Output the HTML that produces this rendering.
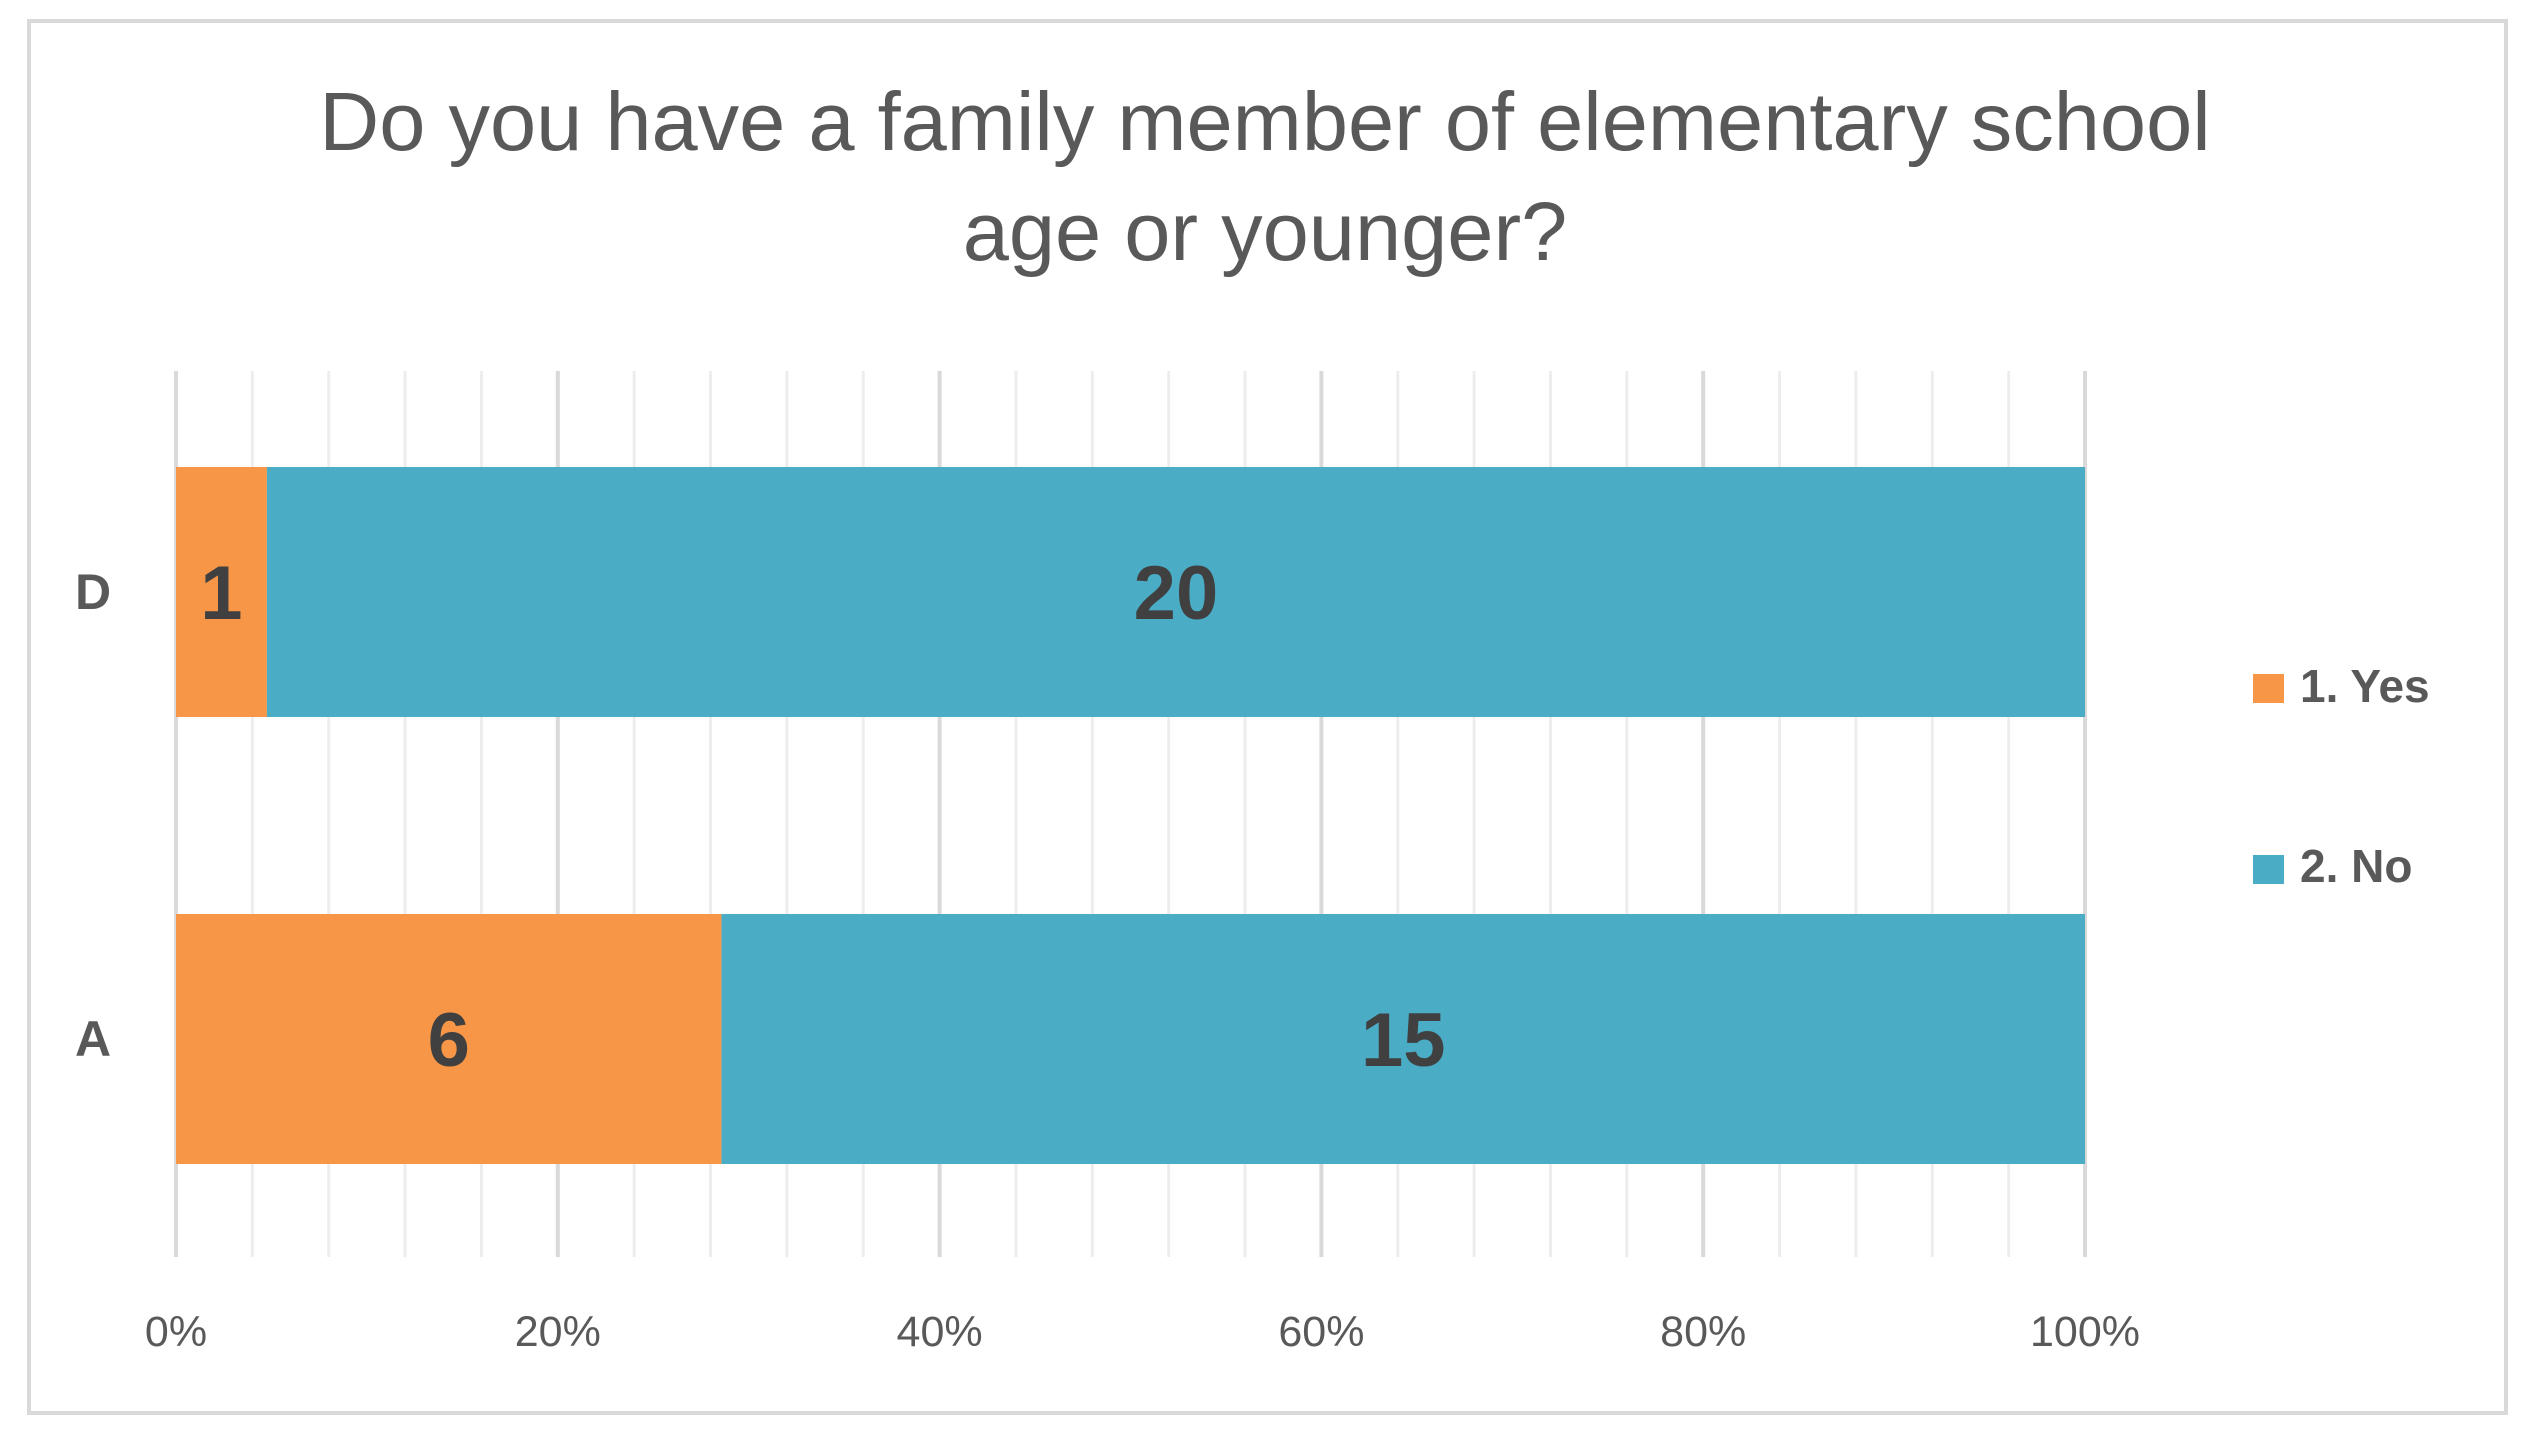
<!DOCTYPE html>
<html><head><meta charset="utf-8"><style>
html,body{margin:0;padding:0;background:#fff;}
svg{display:block;font-family:"Liberation Sans",Calibri,sans-serif;}
</style></head><body>
<svg id="chart" width="2527" height="1437" viewBox="0 0 2527 1437">
<rect x="29" y="21" width="2477" height="1392" fill="#fff" stroke="#d9d9d9" stroke-width="4"/>
<text x="1265" y="150" text-anchor="middle" font-size="83" fill="#595959">Do you have a family member of elementary school</text>
<text x="1265" y="260" text-anchor="middle" font-size="83" fill="#595959">age or younger?</text>
<g id="grid"></g>
<g id="bars"></g>
<g id="labels"></g>
<g>
<rect x="2253" y="674" width="31" height="29" fill="#F79646"/>
<text x="2300" y="702" font-size="46" font-weight="bold" fill="#595959">1. Yes</text>
<rect x="2253" y="855" width="31" height="29" fill="#4BACC6"/>
<text x="2300" y="882" font-size="46" font-weight="bold" fill="#595959">2. No</text>
</g>
</svg>
<script>
const categories = ["D", "A"];
const yesValues = [1, 6];
const noValues = [20, 15];
const tickLabels = ["0%", "20%", "40%", "60%", "80%", "100%"];

const NS = "http://www.w3.org/2000/svg";
const x0 = 176, x1 = 2085, gTop = 371, gBot = 1257;
const xs = p => x0 + (x1 - x0) * p;
const bandTop = [467, 914], bandH = 250;
function mk(tag, attrs, parent){const e=document.createElementNS(NS,tag);for(const k in attrs)e.setAttribute(k,attrs[k]);parent.appendChild(e);return e;}
const grid = document.getElementById('grid'), bars = document.getElementById('bars'), labels = document.getElementById('labels');
for (let i = 0; i <= 25; i++) {
  const major = i % 5 === 0;
  const l = mk('line', {x1: xs(i/25), x2: xs(i/25), y1: gTop, y2: gBot, stroke: major ? '#d9d9d9' : '#ededed', 'stroke-width': major ? 4 : 3}, grid);
  
  
}
tickLabels.forEach((t, i) => {
  const e = mk('text', {x: xs(i/5), y: 1346, 'text-anchor': 'middle', 'font-size': 43, fill: '#595959'}, labels);
  e.textContent = t;
  
  
});
categories.forEach((c, i) => {
  const total = yesValues[i] + noValues[i];
  const py = yesValues[i] / total;
  const y = bandTop[i];
  const r1 = mk('rect', {x: xs(0), y: y, width: xs(py) - xs(0), height: bandH, fill: '#F79646'}, bars);
  
  
  const r2 = mk('rect', {x: xs(py), y: y, width: xs(1) - xs(py), height: bandH, fill: '#4BACC6'}, bars);
  
  
  const t1 = mk('text', {x: (xs(0) + xs(py)) / 2, y: y + bandH/2 + 27, 'text-anchor': 'middle', 'font-size': 76, 'font-weight': 'bold', fill: '#404040'}, labels);
  t1.textContent = yesValues[i];
  
  
  const t2 = mk('text', {x: (xs(py) + xs(1)) / 2, y: y + bandH/2 + 27, 'text-anchor': 'middle', 'font-size': 76, 'font-weight': 'bold', fill: '#404040'}, labels);
  t2.textContent = noValues[i];
  
  
  const cl = mk('text', {x: 93, y: y + bandH/2 + 17, 'text-anchor': 'middle', 'font-size': 50, 'font-weight': 'bold', fill: '#595959'}, labels);
  cl.textContent = c;
  
  
});
</script>
</body></html>
